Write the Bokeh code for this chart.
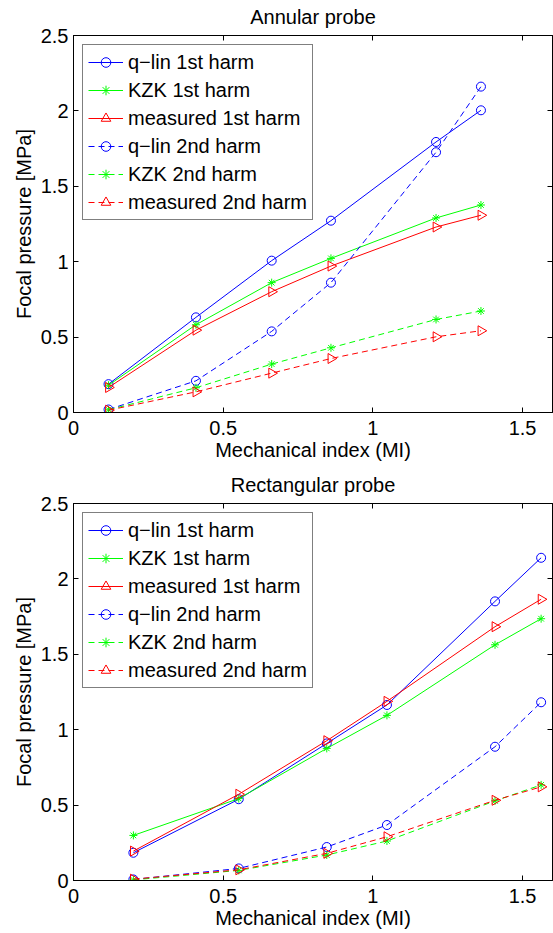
import math
from bokeh.plotting import figure
from bokeh.layouts import column
from bokeh.models import LinearAxis, FixedTicker, Range1d
from bokeh.embed import file_html
from bokeh.resources import INLINE

FONT = "Liberation Sans"

# ---------------- data ----------------
x_ticks = [0, 0.5, 1, 1.5]
x_tick_labels = ["0", "0.5", "1", "1.5"]
y_ticks = [0, 0.5, 1, 1.5, 2, 2.5]
y_tick_labels = ["0", "0.5", "1", "1.5", "2", "2.5"]

series_labels = ["q\u2212lin 1st harm", "KZK 1st harm", "measured 1st harm",
                 "q\u2212lin 2nd harm", "KZK 2nd harm", "measured 2nd harm"]

annular_mi = [0.117, 0.409, 0.662, 0.860, 1.211, 1.361]
annular_qlin_1st = [0.188, 0.631, 1.007, 1.272, 1.794, 2.004]
annular_kzk_1st = [0.181, 0.582, 0.861, 1.022, 1.290, 1.376]
annular_meas_1st = [0.166, 0.546, 0.801, 0.971, 1.230, 1.308]
annular_qlin_2nd = [0.020, 0.210, 0.538, 0.861, 1.726, 2.161]
annular_kzk_2nd = [0.018, 0.164, 0.321, 0.429, 0.617, 0.673]
annular_meas_2nd = [0.015, 0.137, 0.261, 0.358, 0.502, 0.542]

rect_mi = [0.200, 0.552, 0.846, 1.047, 1.408, 1.562]
rect_qlin_1st = [0.184, 0.539, 0.909, 1.164, 1.851, 2.140]
rect_kzk_1st = [0.299, 0.543, 0.876, 1.095, 1.563, 1.736]
rect_meas_1st = [0.195, 0.572, 0.927, 1.188, 1.683, 1.865]
rect_qlin_2nd = [0.007, 0.080, 0.222, 0.368, 0.887, 1.182]
rect_kzk_2nd = [0.004, 0.067, 0.169, 0.262, 0.528, 0.634]
rect_meas_2nd = [0.009, 0.071, 0.180, 0.290, 0.532, 0.621]

# ---------------- styles ----------------
styles = [
    dict(color="#0000ff", marker="circle", size=9, angle=0.0, dash="solid"),
    dict(color="#00ff00", marker="asterisk", size=8, angle=0.0, dash="solid"),
    dict(color="#ff0000", marker="triangle", size=10, angle=-math.pi / 2, dash="solid"),
    dict(color="#0000ff", marker="circle", size=9, angle=0.0, dash="6 4"),
    dict(color="#00ff00", marker="asterisk", size=8, angle=0.0, dash="6 4"),
    dict(color="#ff0000", marker="triangle", size=10, angle=-math.pi / 2, dash="6 4"),
]


def style_axis(ax, ticks, labels, show_labels=True):
    ax.ticker = FixedTicker(ticks=ticks)
    ax.major_tick_in = 5
    ax.major_tick_out = 0
    ax.minor_tick_in = 0
    ax.minor_tick_out = 0
    ax.axis_line_color = "black"
    ax.major_tick_line_color = "black"
    if show_labels:
        ax.major_label_overrides = {t: l for t, l in zip(ticks, labels)}
        ax.major_label_text_font = FONT
        ax.major_label_text_color = "black"
        ax.major_label_text_font_size = "20px"
        ax.axis_label_text_font = FONT
        ax.axis_label_text_font_size = "20px"
        ax.axis_label_text_font_style = "normal"
        ax.axis_label_text_color = "black"
    else:
        ax.major_label_text_font_size = "0px"
        ax.major_label_text_color = None
        ax.major_label_standoff = 0


def make_panel(title, mi, values, height, border_bottom):
    p = figure(width=553, height=height, x_range=Range1d(0, 1.6), y_range=Range1d(0, 2.5),
               output_backend="svg", toolbar_location=None, title=title,
               min_border_left=73, min_border_right=1,
               min_border_top=35, min_border_bottom=border_bottom)
    p.title.text_font = FONT
    p.title.text_font_size = "20px"
    p.title.text_font_style = "normal"
    p.title.text_color = "black"
    p.title.align = "center"
    p.title.vertical_align = "top"
    p.title.standoff = 11
    p.grid.visible = False
    p.outline_line_color = "black"
    p.outline_line_width = 1
    p.background_fill_color = "white"
    p.border_fill_color = "white"

    style_axis(p.xaxis[0], x_ticks, x_tick_labels)
    p.xaxis[0].axis_label = "Mechanical index (MI)"
    p.xaxis[0].major_label_standoff = 8
    p.xaxis[0].axis_label_standoff = 1
    style_axis(p.yaxis[0], y_ticks, y_tick_labels)
    p.yaxis[0].axis_label = "Focal pressure [MPa]"
    p.yaxis[0].major_label_standoff = 5
    p.yaxis[0].axis_label_standoff = 3

    top_ax = LinearAxis()
    style_axis(top_ax, x_ticks, x_tick_labels, show_labels=False)
    p.add_layout(top_ax, "above")
    right_ax = LinearAxis()
    style_axis(right_ax, y_ticks, y_tick_labels, show_labels=False)
    p.add_layout(right_ax, "right")

    for label, vals, st in zip(series_labels, values, styles):
        p.line(mi, vals, line_color=st["color"], line_width=1, line_dash=st["dash"],
               legend_label=label)
        p.scatter(mi, vals, marker=st["marker"], size=st["size"], angle=st["angle"],
                  line_color=st["color"], fill_color=None, line_width=1,
                  legend_label=label)

    lg = p.legend[0]
    lg.location = "top_left"
    lg.margin = 9
    lg.border_line_color = "black"
    lg.border_line_width = 1.5
    lg.background_fill_color = "white"
    lg.background_fill_alpha = 1
    lg.label_text_font = FONT
    lg.label_text_font_size = "20px"
    lg.label_text_color = "black"
    lg.label_height = 24
    lg.glyph_height = 24
    lg.glyph_width = 35
    lg.label_standoff = 5
    lg.spacing = 4
    lg.padding = 5
    return p


p1 = make_panel("Annular probe", annular_mi,
                [annular_qlin_1st, annular_kzk_1st, annular_meas_1st,
                 annular_qlin_2nd, annular_kzk_2nd, annular_meas_2nd],
                height=468, border_bottom=56)
p2 = make_panel("Rectangular probe", rect_mi,
                [rect_qlin_1st, rect_kzk_1st, rect_meas_1st,
                 rect_qlin_2nd, rect_kzk_2nd, rect_meas_2nd],
                height=464, border_bottom=52)

layout = column(p1, p2, spacing=0)
open("out.html", "w").write(file_html(layout, INLINE))
